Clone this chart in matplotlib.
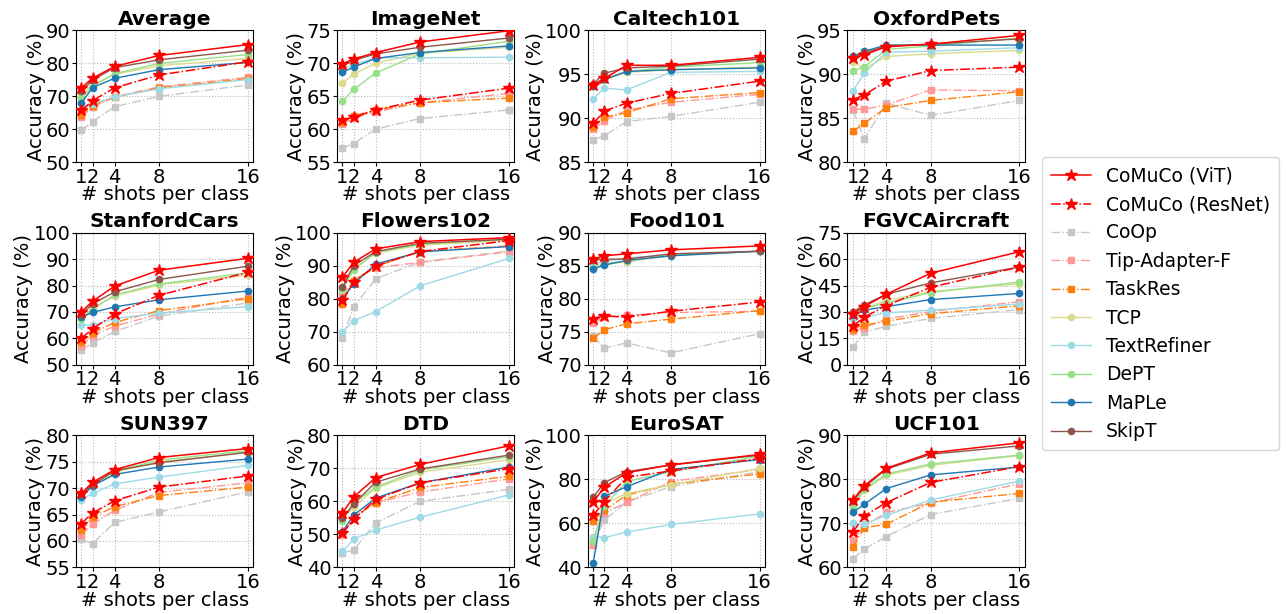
import matplotlib
matplotlib.use("Agg")
import matplotlib.pyplot as plt

shots = [1, 2, 4, 8, 16]
tick_labels = ["1", "2", "4", "8", "16"]

methods = ["CoMuCo (ViT)", "CoMuCo (ResNet)", "CoOp", "Tip-Adapter-F", "TaskRes",
           "TCP", "TextRefiner", "DePT", "MaPLe", "SkipT"]

datasets = ["Average", "ImageNet", "Caltech101", "OxfordPets",
            "StanfordCars", "Flowers102", "Food101", "FGVCAircraft",
            "SUN397", "DTD", "EuroSAT", "UCF101"]

ylims = {
    "Average": (50, 90, [50, 60, 70, 80, 90]),
    "ImageNet": (55, 75, [55, 60, 65, 70, 75]),
    "Caltech101": (85, 100, [85, 90, 95, 100]),
    "OxfordPets": (80, 95, [80, 85, 90, 95]),
    "StanfordCars": (50, 100, [50, 60, 70, 80, 90, 100]),
    "Flowers102": (60, 100, [60, 70, 80, 90, 100]),
    "Food101": (70, 90, [70, 75, 80, 85, 90]),
    "FGVCAircraft": (0, 75, [0, 15, 30, 45, 60, 75]),
    "SUN397": (55, 80, [55, 60, 65, 70, 75, 80]),
    "DTD": (40, 80, [40, 50, 60, 70, 80]),
    "EuroSAT": (40, 100, [40, 60, 80, 100]),
    "UCF101": (60, 90, [60, 70, 80, 90]),
}

# values per dataset, in the order of `methods`
average = [
    [72.5, 75.4, 79.0, 82.3, 85.6],
    [65.7, 68.6, 72.5, 76.4, 80.4],
    [59.6, 62.3, 66.8, 69.9, 73.4],
    [63.6, 66.8, 69.7, 72.8, 75.7],
    [64.3, 67.0, 69.7, 72.5, 75.3],
    [70.7, 73.5, 76.6, 79.2, 81.4],
    [66.0, 67.6, 69.8, 72.2, 75.0],
    [69.5, 73.0, 76.8, 79.9, 82.6],
    [67.9, 72.6, 75.4, 78.0, 80.2],
    [71.5, 74.9, 78.6, 81.0, 83.9],
]
imagenet = [
    [69.9, 70.6, 71.6, 73.2, 74.9],
    [61.4, 61.8, 62.9, 64.4, 66.2],
    [57.1, 57.8, 60.0, 61.6, 62.9],
    [60.7, 61.7, 62.6, 64.0, 65.4],
    [61.0, 62.0, 62.9, 64.0, 64.7],
    [67.0, 68.3, 70.0, 71.5, 72.4],
    [69.0, 69.8, 70.8, 70.8, 70.9],
    [64.2, 66.0, 68.5, 71.4, 73.3],
    [68.6, 69.4, 70.7, 71.6, 72.6],
    [69.6, 70.4, 71.4, 72.4, 73.8],
]
caltech = [
    [93.8, 94.5, 96.0, 96.0, 96.9],
    [89.4, 90.8, 91.7, 92.8, 94.2],
    [87.5, 88.0, 89.6, 90.2, 91.8],
    [88.8, 89.7, 90.9, 91.8, 92.7],
    [89.0, 90.1, 90.6, 92.2, 92.9],
    [93.6, 94.3, 95.2, 95.5, 95.8],
    [92.2, 93.4, 93.2, 95.2, 95.3],
    [93.7, 94.3, 95.3, 95.8, 96.3],
    [93.7, 94.4, 95.3, 95.5, 95.7],
    [93.9, 95.1, 95.7, 95.9, 96.7],
]
pets = [
    [91.8, 92.2, 93.1, 93.4, 94.4],
    [87.1, 87.6, 89.2, 90.4, 90.8],
    [85.9, 82.6, 86.7, 85.3, 87.0],
    [86.0, 86.0, 86.5, 88.2, 88.1],
    [83.5, 84.4, 86.2, 87.0, 88.0],
    [91.4, 90.6, 92.0, 92.3, 92.7],
    [88.1, 90.1, 92.5, 92.6, 93.0],
    [90.4, 90.8, 92.8, 93.2, 94.1],
    [92.0, 92.6, 93.3, 93.3, 93.3],
    [91.8, 92.4, 93.2, 93.4, 94.0],
]
cars = [
    [70.0, 74.0, 79.8, 85.8, 90.3],
    [60.0, 63.6, 69.2, 76.3, 85.0],
    [55.6, 58.3, 62.6, 68.4, 73.4],
    [57.2, 61.0, 64.6, 69.2, 75.7],
    [58.5, 62.0, 66.0, 70.5, 75.0],
    [68.0, 71.5, 76.0, 80.2, 84.0],
    [65.0, 65.0, 67.5, 69.5, 72.0],
    [67.5, 71.0, 76.5, 80.6, 84.8],
    [68.0, 69.8, 71.9, 74.6, 77.9],
    [69.0, 73.0, 77.6, 82.3, 87.3],
]
flowers = [
    [86.5, 91.0, 95.1, 97.3, 98.5],
    [79.5, 85.0, 90.0, 94.3, 97.6],
    [68.1, 77.4, 86.1, 91.1, 94.5],
    [81.0, 85.5, 89.4, 91.0, 94.2],
    [78.5, 85.5, 89.8, 94.3, 96.0],
    [82.5, 89.0, 93.8, 96.2, 97.7],
    [70.0, 73.3, 76.1, 83.9, 92.2],
    [82.8, 88.8, 94.0, 96.6, 98.0],
    [80.0, 84.5, 90.5, 94.2, 95.8],
    [83.5, 90.0, 94.3, 96.8, 98.0],
]
food = [
    [86.0, 86.5, 86.8, 87.4, 88.0],
    [77.0, 77.4, 77.2, 78.1, 79.5],
    [74.3, 72.5, 73.3, 71.8, 74.7],
    [76.3, 77.2, 77.5, 77.9, 78.1],
    [74.0, 75.3, 76.2, 76.9, 78.2],
    [84.8, 85.2, 85.6, 86.5, 87.2],
    [85.3, 85.6, 86.2, 86.6, 87.2],
    [84.7, 85.3, 85.7, 86.6, 87.2],
    [84.5, 85.1, 85.8, 86.5, 87.2],
    [85.8, 86.0, 86.0, 86.8, 87.2],
]
aircraft = [
    [29.0, 33.0, 40.0, 52.0, 64.2],
    [22.0, 27.0, 33.6, 44.0, 55.5],
    [9.8, 18.5, 21.8, 26.3, 31.3],
    [19.0, 21.0, 26.0, 30.2, 35.8],
    [20.5, 22.5, 24.6, 29.0, 33.5],
    [29.0, 32.0, 36.5, 41.5, 46.0],
    [26.0, 27.0, 29.5, 31.0, 34.5],
    [28.5, 32.0, 35.0, 41.0, 47.0],
    [28.0, 31.0, 33.0, 37.0, 40.5],
    [30.0, 34.0, 40.0, 46.5, 55.5],
]
sun = [
    [69.0, 71.1, 73.5, 75.8, 77.5],
    [63.3, 65.3, 67.6, 70.2, 72.3],
    [60.3, 59.5, 63.5, 65.5, 69.3],
    [61.2, 63.2, 65.8, 69.2, 71.0],
    [62.0, 64.5, 66.5, 68.6, 70.2],
    [68.5, 70.6, 73.0, 75.0, 76.7],
    [67.8, 69.0, 70.8, 72.1, 74.3],
    [68.5, 70.8, 73.2, 75.3, 77.1],
    [68.3, 70.4, 72.6, 74.0, 75.5],
    [68.8, 70.6, 73.3, 74.8, 76.8],
]
dtd = [
    [56.5, 61.3, 67.2, 71.2, 76.8],
    [50.3, 54.5, 60.6, 65.6, 69.9],
    [44.4, 45.2, 53.5, 60.0, 63.6],
    [49.8, 54.9, 59.6, 62.8, 66.8],
    [50.5, 55.2, 59.6, 64.2, 67.6],
    [54.5, 58.3, 64.0, 68.8, 72.6],
    [44.8, 48.6, 51.3, 55.2, 61.9],
    [54.0, 59.5, 64.3, 69.5, 73.5],
    [50.8, 55.8, 61.0, 65.6, 70.4],
    [54.8, 59.2, 65.8, 69.8, 74.0],
]
eurosat = [
    [69.8, 76.4, 83.0, 86.6, 91.3],
    [63.6, 69.9, 80.9, 83.8, 89.5],
    [50.5, 61.5, 69.6, 76.7, 83.5],
    [50.0, 64.6, 69.5, 79.0, 84.5],
    [61.0, 66.0, 72.8, 77.8, 82.5],
    [52.0, 69.0, 73.5, 77.5, 85.0],
    [54.0, 53.5, 56.0, 59.5, 64.3],
    [52.0, 68.0, 79.0, 83.5, 90.5],
    [42.0, 72.3, 76.6, 84.5, 89.0],
    [72.0, 78.5, 83.5, 86.5, 91.0],
]
ucf = [
    [75.3, 78.5, 82.5, 86.0, 88.3],
    [68.0, 71.7, 74.7, 79.3, 82.9],
    [62.0, 64.1, 67.0, 72.0, 75.7],
    [66.2, 69.3, 72.5, 74.6, 79.0],
    [64.6, 69.0, 69.8, 74.8, 76.8],
    [73.4, 77.5, 80.9, 83.2, 85.4],
    [70.0, 69.8, 71.8, 75.3, 79.6],
    [74.0, 77.8, 81.2, 83.5, 85.5],
    [72.5, 74.3, 77.9, 81.0, 82.8],
    [75.0, 78.2, 82.3, 85.7, 87.6],
]

data = {
    "Average": average, "ImageNet": imagenet, "Caltech101": caltech,
    "OxfordPets": pets, "StanfordCars": cars, "Flowers102": flowers,
    "Food101": food, "FGVCAircraft": aircraft, "SUN397": sun, "DTD": dtd,
    "EuroSAT": eurosat, "UCF101": ucf,
}

styles = [
    dict(color="#ff0000", ls="-", marker="*", ms=9, lw=1.1, zorder=10),
    dict(color="#ff0000", ls="-.", marker="*", ms=9, lw=1.1, zorder=9),
    dict(color="#c7c7c7", ls="-.", marker="s", ms=5, lw=1.0, zorder=3),
    dict(color="#ff9896", ls="-.", marker="s", ms=5, lw=1.0, zorder=4),
    dict(color="#ff7f0e", ls="-.", marker="s", ms=5, lw=1.0, zorder=5),
    dict(color="#dbdb8d", ls="-", marker="o", ms=4.5, lw=1.0, zorder=6),
    dict(color="#9edae5", ls="-", marker="o", ms=4.5, lw=1.0, zorder=6),
    dict(color="#98df8a", ls="-", marker="o", ms=4.5, lw=1.0, zorder=7),
    dict(color="#1f77b4", ls="-", marker="o", ms=4.5, lw=1.0, zorder=7),
    dict(color="#8c564b", ls="-", marker="o", ms=4.5, lw=1.0, zorder=8),
]

plt.rcParams["font.family"] = "DejaVu Sans"
fig = plt.figure(figsize=(12.86, 6.14), dpi=100)

lefts = [0.059, 0.262, 0.457, 0.659]
bottoms = [0.736, 0.406, 0.076]
w, h = 0.138, 0.215

handles = []
for i, ds in enumerate(datasets):
    r, c = divmod(i, 4)
    ax = fig.add_axes([lefts[c], bottoms[r], w, h])
    for j, m in enumerate(methods):
        st = styles[j]
        ln, = ax.plot(shots, data[ds][j], color=st["color"], linestyle=st["ls"],
                      marker=st["marker"], markersize=st["ms"], linewidth=st["lw"],
                      zorder=st["zorder"], label=m)
        if i == 0:
            handles.append(ln)
    lo, hi, yt = ylims[ds]
    ax.set_ylim(lo, hi)
    ax.set_yticks(yt)
    ax.set_xlim(0.5, 16.5)
    ax.set_xticks(shots)
    ax.set_xticklabels(tick_labels)
    ax.tick_params(labelsize=14, pad=1, length=3)
    ax.grid(True, linestyle=":", color="#b8b8b8", linewidth=0.8)
    ax.set_title(ds, fontsize=14.5, fontweight="bold", pad=4)
    ax.set_xlabel("# shots per class", fontsize=14, labelpad=-1)
    ax.set_ylabel("Accuracy (%)", fontsize=14, labelpad=0)

fig.legend(handles, methods, loc="center left", bbox_to_anchor=(0.803, 0.505),
           fontsize=13.5, frameon=True, handlelength=2.1, labelspacing=0.5,
           borderpad=0.5)

fig.savefig("out.png", dpi=100)
